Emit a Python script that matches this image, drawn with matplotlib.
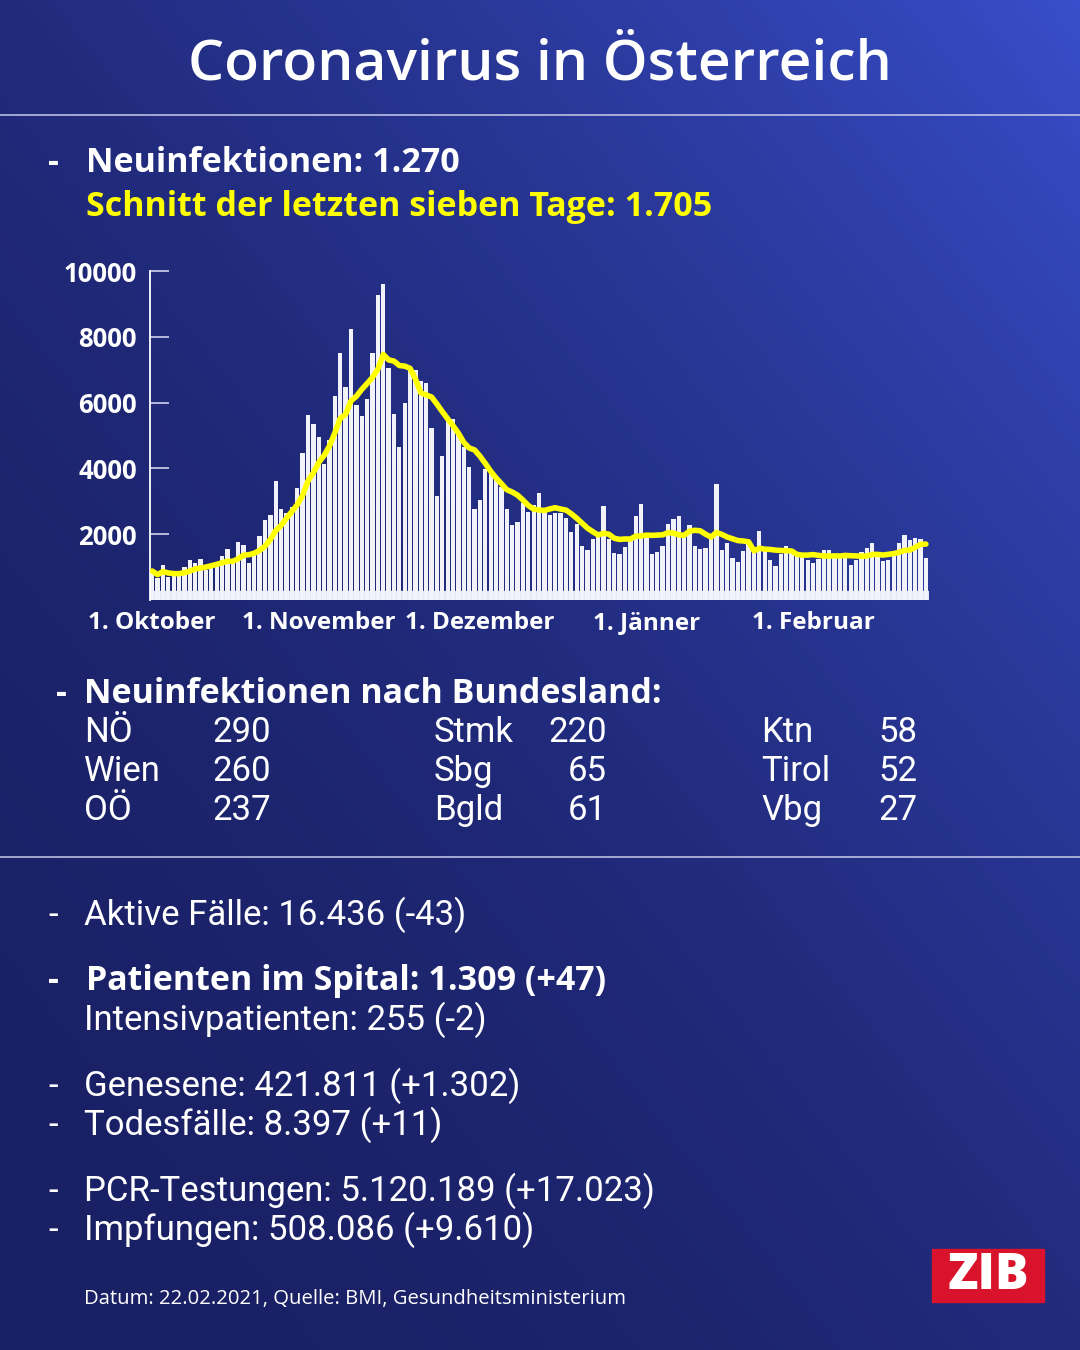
import matplotlib
matplotlib.use("Agg")
import matplotlib.pyplot as plt
from matplotlib.patches import Rectangle
from matplotlib.lines import Line2D
import numpy as np
import pandas as pd

# daily new infections, 1 Oct 2020 .. 22 Feb 2021
cases = [
    880, 660, 1055, 690, 730, 790, 1010, 1215, 1125, 1235,
    900, 1010, 1085, 1345, 1550, 1115, 1755, 1670, 1115, 1400,
    1960, 2430, 2575, 3615, 2780, 2635, 2840, 3395, 4460, 5620,
    5350, 4955, 4135, 4865, 6210, 7515, 6465, 8225,
    5925, 5600, 6120, 7515, 9270, 9595, 7065, 5665, 4660, 5990,
    7040, 6990, 6665, 6605, 5240, 3150, 4375, 5520, 5510, 5065,
    4660, 4050, 2755, 3040, 3970, 3850, 3645, 3445, 2755, 2270,
    2370, 2940, 2685,
    2875, 3240, 2685, 2585, 2635, 2650, 2480, 2075, 2300, 1640,
    1520, 1865, 1945, 2855, 1865, 1440, 1410, 1600, 1850, 2565,
    2905, 2025, 1400, 1470, 1650, 2310, 2470, 2545, 1925, 2280,
    1650, 1540, 1580, 1870, 3515, 1530, 1720,
    1265, 1165, 1490, 1690, 1600, 2085, 1520, 1205, 1025, 1410,
    1640, 1540, 1365, 1365, 1205, 1135, 1245, 1520, 1520, 1400,
    1335, 1335, 1065, 1205, 1450, 1580, 1730, 1335, 1195, 1225,
    1355, 1730, 1975, 1825, 1895, 1845, 1270,
]
month_ticks = [0, 31, 61, 92, 123]
month_labels = ["1. Oktober", "1. November", "1. Dezember", "1. Jänner", "1. Februar"]
y_ticks = [2000, 4000, 6000, 8000, 10000]

states_1 = ["NÖ", "Wien", "OÖ"]
values_1 = ["290", "260", "237"]
states_2 = ["Stmk", "Sbg", "Bgld"]
values_2 = ["220", "65", "61"]
states_3 = ["Ktn", "Tirol", "Vbg"]
values_3 = ["58", "52", "27"]

W, H = 1080, 1350
BOLD = ["Open Sans", "DejaVu Sans"]
REG = ["Roboto", "Open Sans", "DejaVu Sans"]
YELLOW = "#ffff00"
HEAD = 24.5
BODY = 25

fig = plt.figure(figsize=(W / 100, H / 100), dpi=100)

# background gradient, brighter towards the top right
bg = fig.add_axes([0, 0, 1, 1])
gx, gy = np.meshgrid(np.linspace(0, 1, 300), np.linspace(0, 1, 375))
f = ((gx + (1 - gy)) / 2) ** 2
dark = np.array([26, 32, 100]) / 255
light = np.array([56, 78, 202]) / 255
img = dark + (light - dark) * f[..., None]
bg.imshow(img, extent=[0, 1, 0, 1], origin="upper", aspect="auto")
bg.set_axis_off()


def fx(x):
    return x / W


def fy(y):
    return 1 - y / H


def txt(x, y, s, size, bold=False, color="white", ha="left"):
    fig.text(fx(x), fy(y), s, fontsize=size, color=color, ha=ha, va="baseline",
             family=BOLD if bold else REG, fontweight="bold" if bold else "normal")


# title and separators
fig.text(0.5, fy(79), "Coronavirus in Österreich", fontsize=41, color="white",
         ha="center", va="baseline", family=BOLD, fontweight="semibold")
for yy in (115, 857):
    fig.add_artist(Line2D([0, 1], [fy(yy), fy(yy)], color="#c9cdea", lw=1.1))

txt(48, 172, "-", HEAD, bold=True)
txt(86, 172, "Neuinfektionen: 1.270", HEAD, bold=True)
txt(86, 216, "Schnitt der letzten sieben Tage: 1.705", HEAD, bold=True, color=YELLOW)

# chart
ax = fig.add_axes([fx(149.5), fy(600), (928.6 - 149.5) / W, (600 - 271) / H])
ax.set_facecolor("none")
days = np.arange(len(cases))
avg = pd.Series(cases).rolling(7, min_periods=1).mean()
ax.axhspan(0, 270, color="#e6e8f4", zorder=1)
ax.bar(days, cases, width=0.8, color="#f2f3fa", zorder=2)
ax.plot(days, avg, color=YELLOW, lw=4.0, zorder=3, solid_capstyle="round")
ax.set_xlim(-0.5, len(cases) - 0.5)
ax.set_ylim(0, 10000)
for s in ("top", "right", "bottom"):
    ax.spines[s].set_visible(False)
ax.spines["left"].set_color("white")
ax.spines["left"].set_linewidth(1.3)
ax.set_yticks(y_ticks)
ax.set_yticklabels([str(v) for v in y_ticks], family=BOLD, fontweight="bold", fontsize=18.5)
ax.tick_params(axis="y", direction="in", length=14, width=1.2, color="#d0d3ec",
               labelcolor="white", pad=9)
ax.set_xticks(month_ticks)
ax.set_xticklabels(month_labels, family=BOLD, fontweight="bold", fontsize=17.5)
ax.tick_params(axis="x", length=0, labelcolor="white", pad=8)

# states
txt(56, 703, "-", HEAD, bold=True)
txt(84, 703, "Neuinfektionen nach Bundesland:", HEAD, bold=True)
rows = [742, 781, 820]
for i, yy in enumerate(rows):
    txt(84, yy, states_1[i], BODY)
    txt(212, yy, values_1[i], BODY)
    txt(434, yy, states_2[i], BODY)
    txt(607, yy, values_2[i], BODY, ha="right")
    txt(761, yy, states_3[i], BODY)
    txt(917, yy, values_3[i], BODY, ha="right")

# lower block
txt(48, 925, "-", BODY)
txt(84, 925, "Aktive Fälle: 16.436 (-43)", BODY)
txt(48, 990, "-", HEAD, bold=True)
txt(86, 990, "Patienten im Spital: 1.309 (+47)", HEAD, bold=True)
txt(84, 1030, "Intensivpatienten: 255 (-2)", BODY)
txt(48, 1096, "-", BODY)
txt(84, 1096, "Genesene: 421.811 (+1.302)", BODY)
txt(48, 1135, "-", BODY)
txt(84, 1135, "Todesfälle: 8.397 (+11)", BODY)
txt(48, 1201, "-", BODY)
txt(84, 1201, "PCR-Testungen: 5.120.189 (+17.023)", BODY)
txt(48, 1240, "-", BODY)
txt(84, 1240, "Impfungen: 508.086 (+9.610)", BODY)
fig.text(fx(84), fy(1304), "Datum: 22.02.2021, Quelle: BMI, Gesundheitsministerium",
         fontsize=14.6, color="white", ha="left", va="baseline", family=BOLD)

# ZIB logo
fig.add_artist(Rectangle((fx(932), fy(1302)), 112 / W, 53 / H,
                         transform=fig.transFigure, color="#d8132b"))
fig.text(fx(988), fy(1276), "ZIB", fontsize=36, color="white", ha="center",
         va="center", family=BOLD, fontweight="heavy")

fig.savefig("out.png", dpi=100)
